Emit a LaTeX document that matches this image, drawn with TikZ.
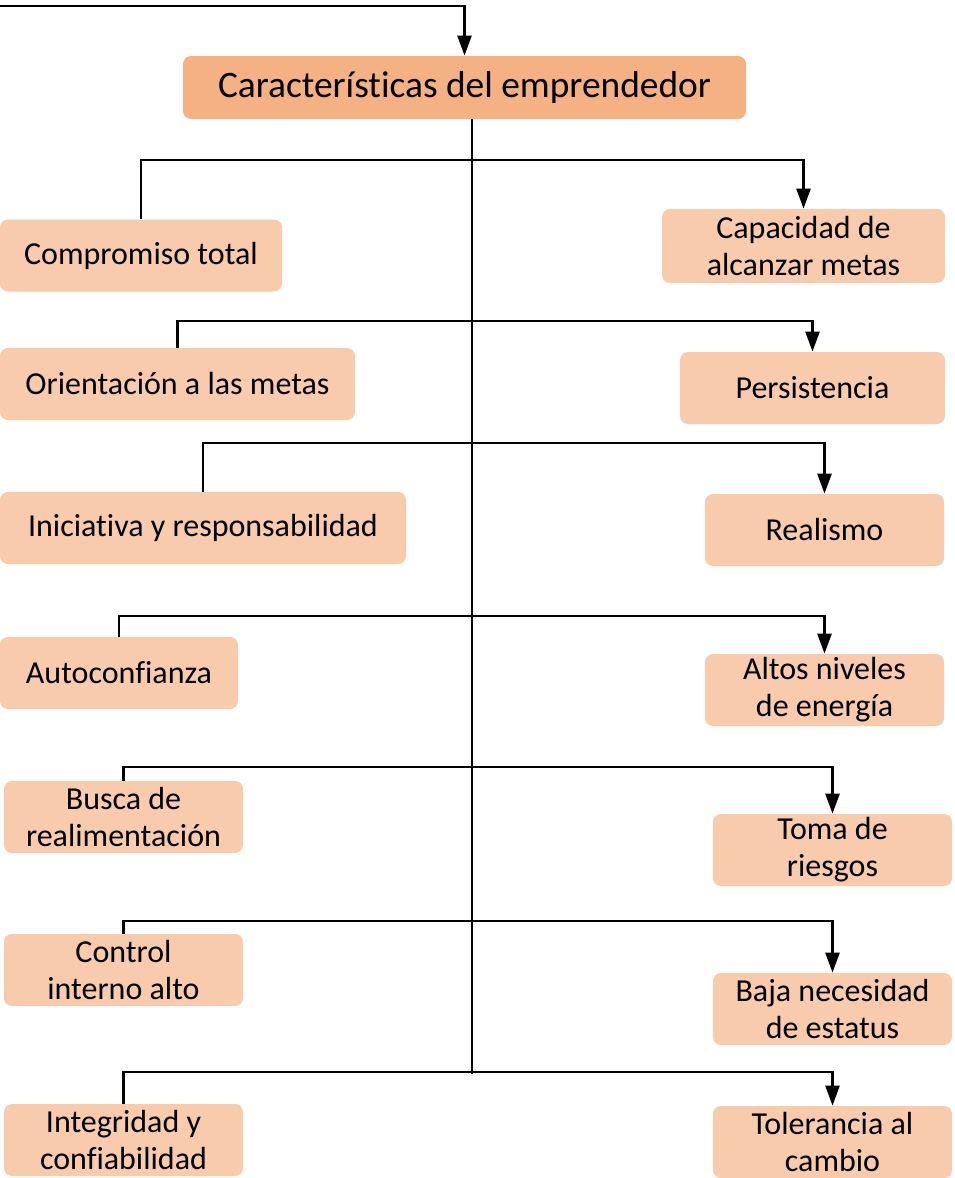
\documentclass[tikz,border=0pt]{standalone}
\usepackage{fontspec}
\setmainfont{Carlito}[Ligatures=NoCommon]
\usetikzlibrary{arrows.meta}

\definecolor{headfill}{HTML}{F4B183}
\definecolor{boxfill}{HTML}{F8CBAD}

\begin{document}
\begin{tikzpicture}[%
      x=0.5pt, y=-0.5pt,
      box/.style={fill=boxfill, rounded corners=4pt, align=center, inner sep=0pt,
        minimum height=36pt, font=\fontsize{16}{18.5}\selectfont},
      link/.style={line width=1.25pt},
      tip/.style={-{Triangle[width=7pt,length=10pt]}},
      ]
      \useasboundingbox (0,0) rectangle (954,1178);

      \node [box, fill=headfill, minimum width=281.5pt, minimum height=31.5pt,
        font=\fontsize{18.7}{22}\selectfont] (head) at (464.5,87.5) {Características del emprendedor};

      \node [box, minimum width=141pt] (comp) at (141,255.5) {Compromiso total};
      \node [box, minimum width=141.5pt, minimum height=37pt] (capa) at (803.5,246) {Capacidad de\\alcanzar metas};
      \node [box, minimum width=177.5pt] (orie) at (177.5,384) {Orientación a las metas};
      \node [box, minimum width=132.5pt] (pers) at (812.5,388) {Persistencia};
      \node [box, minimum width=203pt] (inic) at (203,528) {Iniciativa y responsabilidad};
      \node [box, minimum width=119.5pt] (real) at (824.5,530) {Realismo};
      \node [box, minimum width=119pt] (auto) at (119,673) {Autoconfianza};
      \node [box, minimum width=119.5pt] (alto) at (824.5,690) {Altos niveles\\de energía};
      \node [box, minimum width=119.5pt] (busc) at (123.5,817) {Busca de\\realimentación};
      \node [box, minimum width=119.5pt] (toma) at (832.5,850) {Toma de\\riesgos};
      \node [box, minimum width=119.5pt] (cont) at (123.5,970) {Control\\interno alto};
      \node [box, minimum width=119.5pt] (baja) at (832.5,1009) {Baja necesidad\\de estatus};
      \node [box, minimum width=119.5pt] (inte) at (123.5,1140) {Integridad y\\confiabilidad};
      \node [box, minimum width=119.5pt] (tole) at (832.5,1142) {Tolerancia al\\cambio};

      \coordinate (start) at (0,6);
      \coordinate (r1) at (472,160);
      \coordinate (r2) at (472,321);
      \coordinate (r3) at (472,443);
      \coordinate (r4) at (472,616);
      \coordinate (r5) at (472,767);
      \coordinate (r6) at (472,921);
      \coordinate (r7) at (472,1072);
      \coordinate (spineend) at (472,1074);

      \draw [link, tip] (start) -| (head.north);
      \draw [line width=0.6pt] (head.south -| r1) -- (spineend);

      \draw [link, tip] (comp.north) |- (r1) -| (capa.north);
      \draw [link, tip] (orie.north) |- (r2) -| (pers.north);
      \draw [link, tip] (inic.north) |- (r3) -| (real.north);
      \draw [link, tip] (auto.north) |- (r4) -| (alto.north);
      \draw [link, tip] (busc.north) |- (r5) -| (toma.north);
      \draw [link, tip] (cont.north) |- (r6) -| (baja.north);
      \draw [link, tip] (inte.north) |- (r7) -| (tole.north);
      \end{tikzpicture}
\end{document}
